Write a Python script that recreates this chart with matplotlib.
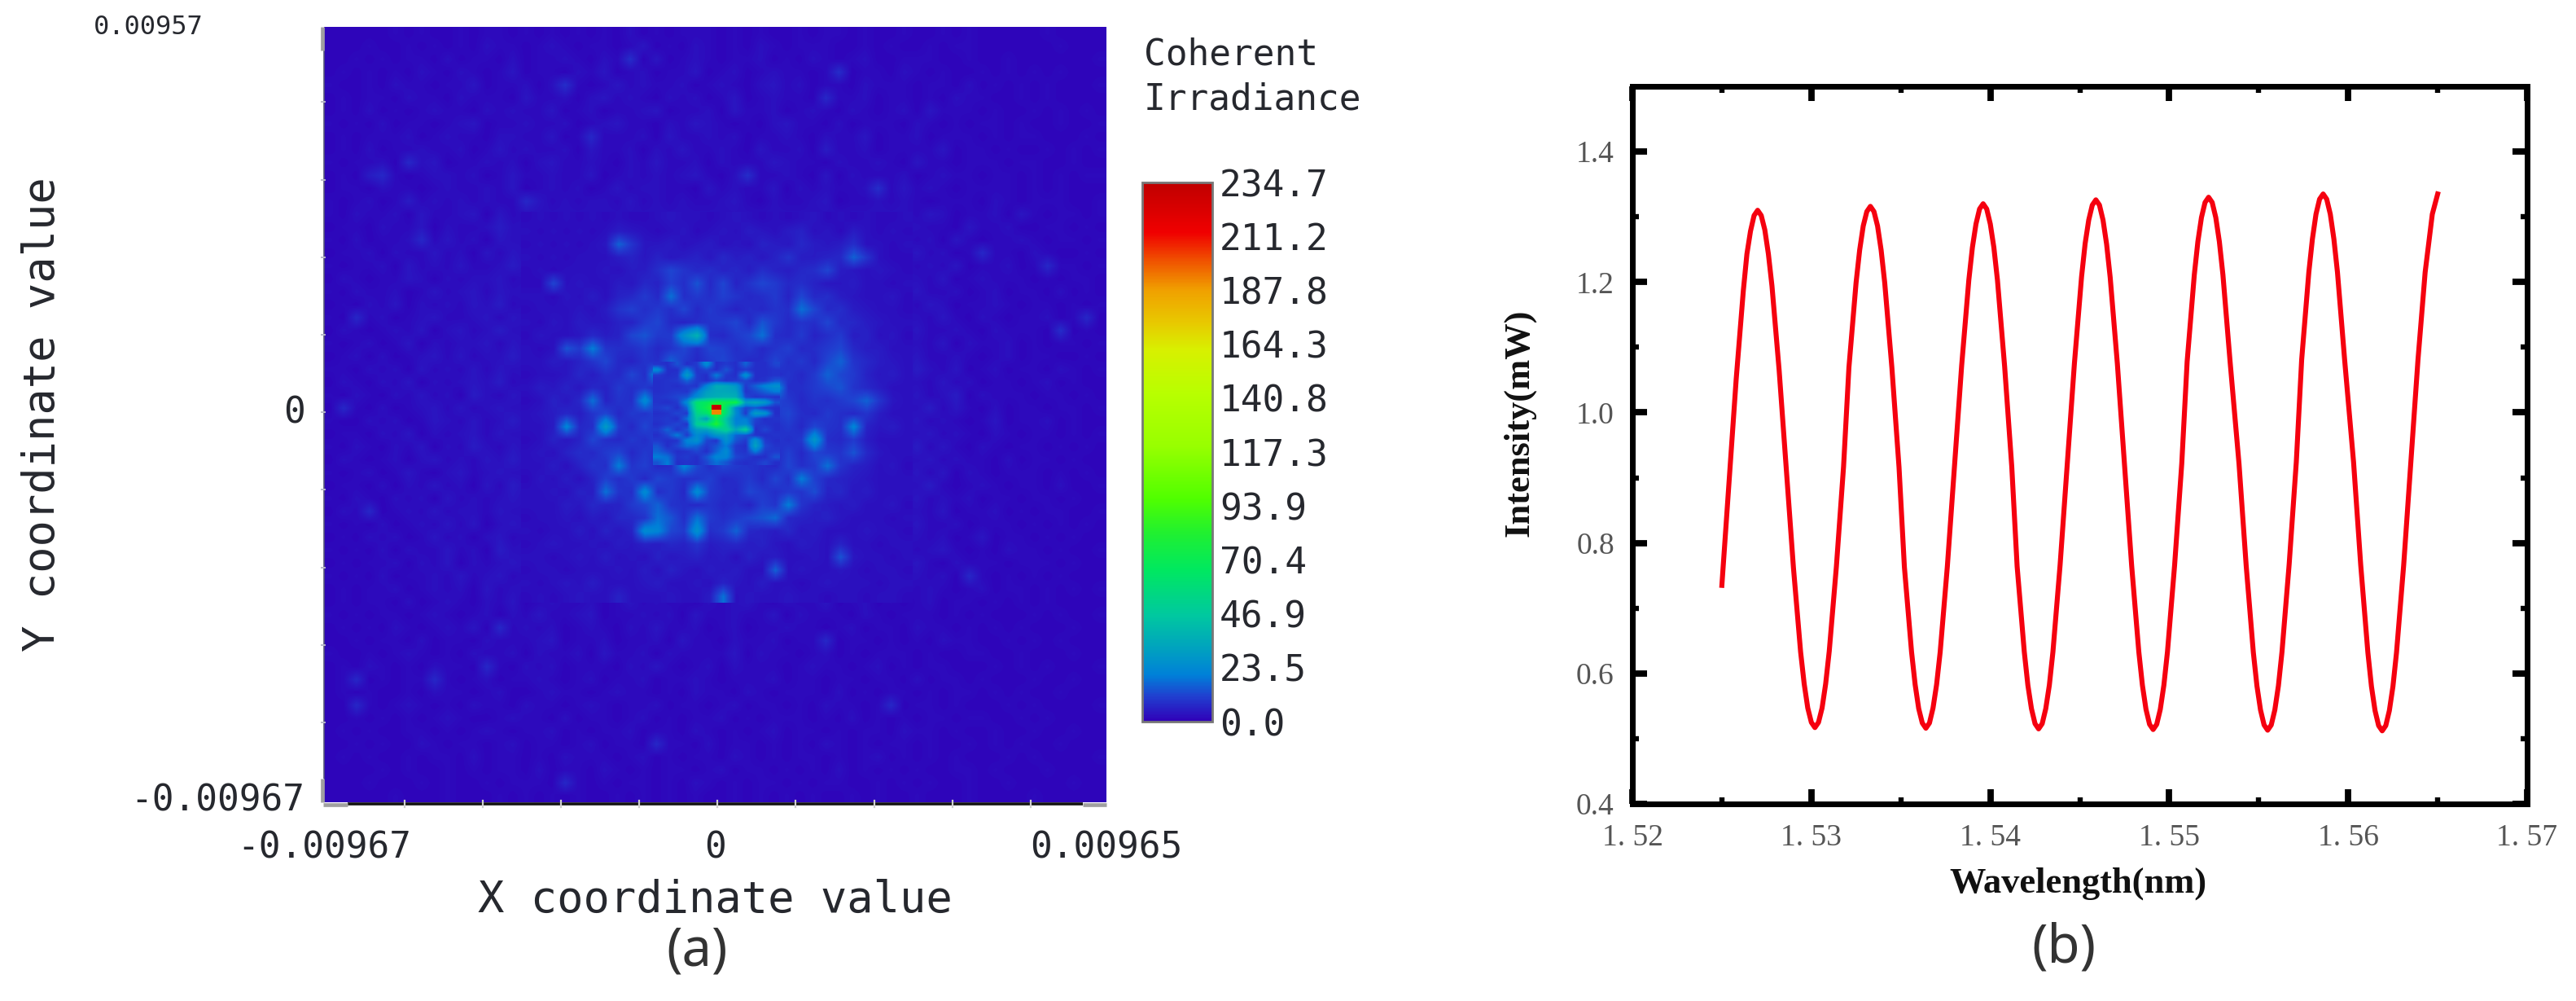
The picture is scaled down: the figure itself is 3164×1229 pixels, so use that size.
import numpy as np
import matplotlib
matplotlib.use("Agg")
import matplotlib.pyplot as plt
from matplotlib.colors import LinearSegmentedColormap, Normalize
from matplotlib.transforms import ScaledTranslation

W, H = 3164, 1229

# ---------- panel (a) values ----------
x_limits = (-0.00967, 0.00965)
y_limits = (-0.00967, 0.00957)
bar_values = [0.0, 23.5, 46.9, 70.4, 93.9, 117.3, 140.8, 164.3, 187.8, 211.2, 234.7]
bar_labels = ["0.0", "23.5", "46.9", "70.4", "93.9", "117.3", "140.8", "164.3", "187.8", "211.2", "234.7"]

# outskirts of the field, one digit per cell (estimated irradiance)
outer_top = [
"1111121211 2122121212 1213121222 1212112122 1211211212 1111121111",
"1112112121 2132212321 2212412132 1213212221 1212112122 1111112111",
"1121212213 1221312232 1328141232 1223121321 2311222112 1121111112",
"1212121321 3212412213 2412312241 2312322128 1221321211 2121212111",
"2112132212 2412231382 1242322312 3213423122 1322212213 1212121112",
"1212213221 3222142231 3423213231 2412322172 2312212132 2112121111",
"1213121232 2132322412 3122341223 1422312321 3212314222 1211212121",
"2121312212 3412232231 2342213243 2121342213 1222132121 2212112112",
"1212223123 2213322412 7222314223 2312232132 2412231222 1212211121",
"1213122322 3124232231 4223132422 3214223152 2312222412 2121121212",
"2122317341 2232313422 3213242231 3222432213 2232142212 2212211211",
"1215721233 2312422322 4123232342 1382232141 3222312322 1221212122",
"1221322123 2232412323 1242332214 2322413232 2382423212 2221212111",
"2123125232 3232274232 3324232322 3421322341 2232321222 1321222112",
]
outer_left = [
"21322 31422 34142", "12213 22413 22353", "21312 23724 23143", "12231 32242 31424",
"21223 14232 42235", "13212 24313 23342", "21322 31242 34243", "12132 41323 24352",
"21723 12342 23424", "13212 32413 42353", "21231 24132 33424", "12313 12342 42335",
"22132 31423 24243", "13213 24132 34352", "21321 32423 15324", "17213 12342 42343",
"21132 31243 24235", "12213 24132 34243", "21321 32413 25324", "13212 31342 32435",
"21231 24213 42343", "12213 13242 31425", "21321 32314 23234", "13271 23242 33243",
"21213 12324 24134", "12132 31242 31342", "21213 13224 23153", "12122 31324 13234",
"21213 12232 42342", "12122 31232 31423",
]
outer_right = [
"24312 23142 12212", "32214 22311 22121", "23142 12232 12212", "42312 72213 21121",
"23241 22312 72212", "32412 32221 21221", "42231 23122 13121", "24312 23212 21212",
"32421 32122 31271", "42232 13222 18121", "32413 22312 12212", "42232 12312 21121",
"53241 23122 13212", "32423 12212 31211", "42351 32221 22121", "35242 13122 12212",
"42321 24122 31211", "34232 13212 21212", "52421 32122 12121", "34232 21312 21211",
"42413 21222 12121", "35212 32122 13112", "42323 12212 21211", "32412 23121 22112",
"42231 22212 12121", "32312 41221 21211", "23421 21322 12112", "42132 22122 21211",
"32317 21212 12111", "23212 31221 21212",
]
outer_bottom = [
"1212213123 2132412322 3124232213 2342132241 2312123122 1212121111",
"2121221232 1231324223 4122323142 2322413222 1321222121 2111212112",
"1212132123 2417232312 3213242231 2312232212 3122132212 1212111211",
"1121221312 2132223412 2312231422 1322312271 2212121322 1121212111",
"2112123212 1322313223 1422313222 2413221231 2122212112 2112111211",
"1213212132 2172132312 2213242123 1322212322 1231212211 1212121112",
"1271212272 1231223212 3122312232 1222312212 2122131221 2111211211",
"1212112132 2123112322 1232212132 2132122213 1212212122 1212112111",
"1172123212 1322132212 3212231221 2312212132 2127122121 1121211112",
"1121212123 2112322131 2212312122 3121222121 3121212212 2112121111",
"1212112212 1232122312 1223122132 1212312212 1221322121 1211211211",
"1121211321 2212312212 3122172213 1221212132 1212212112 1212112111",
"1212112122 1312212132 2212312122 1321212212 1231212121 1121211112",
"1111212112 1212213122 1321212212 3122121213 1212121122 1211121111",
"1112111212 1121222172 1212212132 1212212122 1121212112 1121111211",
"1111121112 1112121212 1121212121 1212121211 2121121112 1111211111",
]

# central region, finer reading
irradiance_middle = [
[2,3,2,3,2,3,2,3,2,2,3,4,3,3,2,3,4,3,2,3,2,3,4,2,3,2,3,2,2,3],
[3,2,3,2,3,2,3,5,4,3,2,3,4,2,3,4,3,5,4,3,5,6,3,4,2,5,3,2,3,2],
[2,3,2,3,2,3,4,16,9,4,4,5,3,4,5,3,4,3,6,5,4,7,5,4,5,8,3,3,2,3],
[3,2,3,2,3,3,3,5,6,4,6,4,5,6,4,7,5,6,4,6,9,5,5,6,7,16,9,3,2,2],
[2,3,2,3,3,3,4,3,5,5,8,12,9,7,8,6,7,5,8,6,5,7,8,12,5,4,3,4,3,2],
[2,2,12,3,4,3,3,5,4,7,6,11,8,14,7,12,6,9,12,10,7,8,6,4,4,5,3,3,2,3],
[3,3,2,4,3,5,3,6,7,10,7,18,8,10,8,11,9,7,8,10,6,12,7,8,5,4,3,3,4,2],
[2,3,3,3,4,3,5,9,11,8,10,8,12,7,10,8,6,8,7,9,8,18,12,7,8,5,4,3,3,2],
[3,2,4,3,5,4,4,6,6,10,12,7,6,8,9,10,12,7,14,10,7,9,8,12,7,7,5,4,3,3],
[2,4,3,3,4,7,5,6,12,14,10,10,26,38,8,7,10,12,18,8,7,10,6,8,10,5,6,3,4,2],
[3,2,3,14,10,20,9,8,8,10,7,9,12,8,12,11,8,10,7,9,11,7,8,10,12,7,5,5,3,3],
[3,3,5,4,6,9,12,7,6,9,8,16,10,7,10,12,9,7,8,12,8,10,7,12,16,9,7,5,4,3],
[2,3,3,4,7,5,8,7,12,8,26,10,22,8,11,16,26,10,12,7,9,7,10,16,12,10,6,4,5,3],
[3,5,4,6,4,7,6,10,8,10,7,9,10,26,34,36,32,14,10,26,8,8,10,12,14,9,7,5,3,3],
[2,3,6,4,7,18,6,9,8,24,8,10,18,50,62,70,60,44,38,12,10,7,9,8,10,12,16,9,4,3],
[3,4,5,7,5,9,12,7,10,9,12,14,16,58,66,90,56,22,12,10,12,8,7,10,8,7,9,5,3,3],
[3,3,5,22,7,8,30,10,7,12,8,10,14,52,44,78,48,18,22,8,10,7,12,9,8,22,6,4,5,3],
[2,3,6,4,6,12,8,7,10,8,12,7,10,22,28,32,48,16,22,10,8,10,28,8,7,10,5,3,3,3],
[3,4,3,6,8,7,10,12,7,10,8,10,12,10,14,20,12,10,8,7,11,7,12,10,9,14,7,4,3,3],
[3,3,5,3,6,9,8,20,9,11,7,8,22,12,8,12,10,9,8,7,12,8,10,18,9,6,5,3,4,2],
[2,4,3,5,3,6,11,8,10,7,12,10,8,9,11,7,8,10,7,12,8,20,11,7,6,5,4,3,3,3],
[3,3,4,3,6,5,18,9,8,24,8,10,7,24,10,8,7,12,10,8,10,9,13,6,7,4,5,3,3,3],
[3,3,3,5,4,7,6,6,10,12,16,9,8,7,9,7,8,6,11,9,20,9,6,5,4,5,3,3,4,2],
[2,3,3,4,3,5,4,7,7,9,18,14,8,18,10,8,10,12,14,17,7,6,5,6,4,3,3,3,2,3],
[3,2,3,3,5,3,6,4,6,24,22,12,10,26,8,10,16,7,6,5,7,4,5,3,3,3,4,3,3,2],
[2,3,4,3,3,4,3,5,4,6,5,7,6,9,5,6,7,5,6,4,3,5,4,3,6,3,3,2,3,3],
[3,3,2,3,4,3,5,3,4,3,6,4,5,6,4,5,3,6,4,5,3,3,4,3,14,4,3,3,2,3],
[2,3,3,2,3,3,3,4,3,5,3,6,4,3,5,4,5,3,3,16,3,4,3,3,4,3,2,3,3,2],
[3,2,3,4,3,5,3,3,3,4,5,3,3,4,3,6,4,3,5,3,3,2,3,4,3,3,3,2,3,3],
[2,3,2,3,4,3,3,6,3,3,3,4,3,3,5,18,3,4,3,3,4,3,3,2,3,3,2,3,3,2],
]

# spot at the centre, finest reading
irradiance_core = [
[9,8,14,8,10,24,8,10,8,16,8,8,12],
[24,8,8,20,9,12,8,14,8,10,8,8,9],
[10,8,9,30,10,8,20,10,8,26,8,8,9],
[8,9,10,16,10,8,12,9,10,12,8,9,14],
[8,9,8,10,9,22,36,34,28,10,16,22,26],
[8,9,10,9,18,30,34,34,32,9,12,16,20],
[9,10,12,14,24,34,36,38,36,12,9,10,9],
[9,8,10,24,62,68,78,72,76,30,34,28,14],
[10,12,8,16,60,72,90,62,22,12,14,9,8],
[8,9,12,10,54,62,90,58,24,10,30,26,8],
[9,10,8,18,46,30,70,44,20,20,12,8,9],
[8,10,12,9,50,58,82,48,22,24,10,9,8],
[10,16,9,14,30,32,44,52,34,50,8,12,8],
[8,12,20,10,24,18,28,30,16,14,9,8,9],
[10,8,9,22,26,12,9,26,14,10,28,10,8],
[14,8,12,18,16,10,14,20,10,8,32,12,9],
[16,12,8,9,12,8,16,24,10,9,20,10,10],
[20,18,9,10,8,14,22,22,12,10,8,8,14],
[14,20,8,9,8,12,18,14,9,8,9,12,8],
]

# the brightest two cells, red over orange
irradiance_peak = [[232], [192]]

middle_extent = (-0.004805, 0.004845, -0.004718, 0.004982)
core_extent = (-0.001548, 0.001588, -0.001296, 0.001264)
peak_extent = (-0.00010, 0.00014, -0.00005, 0.00019)

# ---------- panel (b) values ----------
wavelength = [
1.5250,1.5254,1.5258,1.5262,1.5264,1.5266,1.5268,1.5270,1.5272,1.5274,1.5276,1.5278,
1.5282,1.5286,1.5290,1.5294,1.5296,1.5298,1.5300,1.5302,1.5304,1.5306,1.5308,1.5310,
1.5314,1.5318,1.5321,1.5325,1.5327,1.5329,1.5331,1.5333,1.5335,1.5337,1.5339,1.5341,
1.5345,1.5349,1.5352,1.5356,1.5358,1.5360,1.5362,1.5364,1.5366,1.5368,1.5370,1.5372,
1.5376,1.5380,1.5384,1.5388,1.5390,1.5392,1.5394,1.5396,1.5398,1.5400,1.5402,1.5404,
1.5408,1.5412,1.5415,1.5419,1.5421,1.5423,1.5425,1.5427,1.5429,1.5431,1.5433,1.5435,
1.5439,1.5443,1.5447,1.5451,1.5453,1.5455,1.5457,1.5459,1.5461,1.5463,1.5465,1.5467,
1.5471,1.5475,1.5479,1.5483,1.5485,1.5487,1.5489,1.5491,1.5493,1.5495,1.5497,1.5499,
1.5503,1.5507,1.5510,1.5514,1.5516,1.5518,1.5520,1.5522,1.5524,1.5526,1.5528,1.5530,
1.5534,1.5539,1.5543,1.5547,1.5549,1.5551,1.5553,1.5555,1.5557,1.5559,1.5561,1.5563,
1.5567,1.5571,1.5574,1.5578,1.5580,1.5582,1.5584,1.5586,1.5588,1.5590,1.5592,1.5594,
1.5598,1.5603,1.5607,1.5611,1.5613,1.5615,1.5617,1.5619,1.5621,1.5623,1.5625,1.5627,
1.5631,1.5635,1.5639,1.5643,1.5647,1.5650,
]
intensity = [
0.735,0.894,1.051,1.187,1.243,1.278,1.302,1.310,1.302,1.280,1.243,1.194,
1.065,0.914,0.762,0.633,0.584,0.547,0.525,0.517,0.525,0.547,0.584,0.634,
0.764,0.917,1.069,1.199,1.249,1.286,1.308,1.316,1.308,1.286,1.249,1.199,
1.069,0.916,0.763,0.633,0.583,0.546,0.524,0.516,0.524,0.547,0.583,0.633,
0.764,0.918,1.072,1.203,1.253,1.289,1.312,1.320,1.312,1.289,1.253,1.203,
1.071,0.917,0.764,0.633,0.582,0.546,0.523,0.515,0.523,0.546,0.582,0.633,
0.766,0.920,1.075,1.208,1.259,1.295,1.318,1.326,1.318,1.295,1.258,1.207,
1.075,0.920,0.765,0.633,0.582,0.545,0.522,0.514,0.522,0.545,0.582,0.633,
0.766,0.922,1.078,1.211,1.262,1.299,1.322,1.330,1.322,1.299,1.262,1.211,
1.078,0.921,0.765,0.632,0.581,0.544,0.521,0.513,0.521,0.544,0.581,0.633,
0.767,0.924,1.081,1.215,1.266,1.304,1.327,1.335,1.327,1.304,1.266,1.215,
1.081,0.924,0.766,0.632,0.580,0.543,0.520,0.512,0.520,0.543,0.580,0.632,
0.766,0.923,1.081,1.215,1.304,1.335,
]
x_ticks_b = [1.52, 1.53, 1.54, 1.55, 1.56, 1.57]
x_labels_b = ["1. 52", "1. 53", "1. 54", "1. 55", "1. 56", "1. 57"]
y_ticks_b = [0.4, 0.6, 0.8, 1.0, 1.2, 1.4]
y_labels_b = ["0.4", "0.6", "0.8", "1.0", "1.2", "1.4"]


def digits(row):
    return [int(c) for c in row.replace(" ", "")]


# the middle of this grid lies under the finer reading
irradiance_outer = (
    [digits(r) for r in outer_top]
    + [digits(a) + [3] * 30 + digits(b) for a, b in zip(outer_left, outer_right)]
    + [digits(r) for r in outer_bottom]
)

# ---------- style ----------
cmap_stops = [
(0.0, "#3000b8"), (11, "#2040d0"), (20, "#0080d8"), (31, "#00a0c0"),
(46, "#00c8a0"), (66, "#00e860"), (82, "#20f030"), (97, "#50ff00"),
(120, "#98ff00"), (143, "#b8ff00"), (162, "#d8f000"), (174, "#e8c800"),
(188, "#f0a000"), (201, "#f05000"), (213, "#f00000"), (234.7, "#c00000"),
]
cmap = LinearSegmentedColormap.from_list(
    "zemax", [(v / 234.7, c) for v, c in cmap_stops], N=512)
norm = Normalize(0, 234.7)
MONO = "DejaVu Sans Mono"
SERIF = "Liberation Serif"
TXT = "#26282e"


def axes_px(fig, x0, y0, x1, y1):
    return fig.add_axes([x0 / W, 1 - y1 / H, (x1 - x0) / W, (y1 - y0) / H])


fig = plt.figure(figsize=(W / 100, H / 100), dpi=100, facecolor="white")

# ---------- panel (a) ----------
ax = axes_px(fig, 398, 33, 1359, 985)
full_extent = (x_limits[0], x_limits[1], y_limits[0], y_limits[1])
im = ax.imshow(irradiance_outer, cmap=cmap, norm=norm, extent=full_extent,
               aspect="auto", interpolation="bilinear", zorder=1)
ax.imshow(irradiance_middle, cmap=cmap, norm=norm, extent=middle_extent,
          aspect="auto", interpolation="bilinear", zorder=2)
ax.imshow(irradiance_core, cmap=cmap, norm=norm, extent=core_extent,
          aspect="auto", interpolation="bilinear", zorder=3)
ax.imshow(irradiance_peak, cmap=cmap, norm=norm, extent=peak_extent,
          aspect="auto", interpolation="nearest", zorder=4)
ax.set_xlim(*x_limits)
ax.set_ylim(*y_limits)
for s in ax.spines.values():
    s.set_visible(False)
ax.set_xticks([x_limits[0], 0, x_limits[1]], ["-0.00967", "0", "0.00965"],
              family=MONO, fontsize=32, color=TXT)
ax.set_yticks([y_limits[0], 0], ["-0.00967", "0"], family=MONO, fontsize=32, color=TXT)
ax.tick_params(axis="x", length=0, pad=25)
ax.tick_params(axis="y", length=0, pad=17)
for lab, up in zip(ax.get_yticklabels(), [7, 4]):
    lab.set_transform(lab.get_transform() + ScaledTranslation(0, up / 100, fig.dpi_scale_trans))
ax.text(-0.01266, y_limits[1], "0.00957", family=MONO, fontsize=23, color=TXT,
        ha="right", va="center", clip_on=False)
fig.text(878 / W, 1 - 1105 / H, "X coordinate value", family=MONO, fontsize=38.7,
         color=TXT, ha="center", va="center")
fig.text(52 / W, 1 - 509 / H, "Y coordinate value", family=MONO, fontsize=38.7,
         color=TXT, ha="center", va="center", rotation=90)

# frame details of the source window
trans = ax.transAxes
ax.plot([0.03, 0.97], [-0.002, -0.002], color="#111111", lw=2.6, transform=trans,
        clip_on=False, zorder=5, solid_capstyle="butt")
ax.plot([0, 0], [0.03, 0.97], color="#555577", lw=1.2, transform=trans,
        clip_on=False, zorder=5, solid_capstyle="butt")
for corner_x, corner_y in [([-0.001, 0.03], [-0.003, -0.003]), ([0.97, 1.0], [-0.003, -0.003]),
                           ([-0.002, -0.002], [0.0, 0.03]), ([-0.002, -0.002], [0.97, 1.0])]:
    ax.plot(corner_x, corner_y, color="#a0a0a0", lw=3.4, transform=trans,
            clip_on=False, zorder=6, solid_capstyle="butt")
for frac in [0.103, 0.203, 0.303, 0.403, 0.503, 0.603, 0.703, 0.803, 0.903]:
    ax.plot([frac, frac], [-0.006, 0.002], color="#d0d0d0", lw=1.6, transform=trans,
            clip_on=False, zorder=6)
    ax.plot([-0.003, 0.001], [frac, frac], color="#b8b8c8", lw=1.4, transform=trans,
            clip_on=False, zorder=6)

# colour bar
cax = axes_px(fig, 1403, 224, 1489, 886)
cb = fig.colorbar(im, cax=cax)
cb.set_ticks(bar_values, labels=bar_labels)
cb.ax.tick_params(length=0, pad=6.5, labelsize=32, labelcolor=TXT)
for lab in cb.ax.get_yticklabels():
    lab.set_family(MONO)
cb.outline.set_edgecolor("#777777")
cb.outline.set_linewidth(2)
fig.text(1405 / W, 1 - 67 / H, "Coherent", family=MONO, fontsize=32, color=TXT,
         ha="left", va="center")
fig.text(1405 / W, 1 - 122 / H, "Irradiance", family=MONO, fontsize=32, color=TXT,
         ha="left", va="center")

# ---------- panel (b) ----------
bx = axes_px(fig, 2005, 106, 3104, 987)
bx.plot(wavelength, intensity, color="#f5000f", lw=4.4, solid_joinstyle="round")
bx.set_xlim(1.52, 1.57)
bx.set_ylim(0.4, 1.5)
for s in bx.spines.values():
    s.set_linewidth(5)
bx.set_xticks(x_ticks_b, x_labels_b, family=SERIF, fontsize=27, color="#555555")
bx.set_yticks(y_ticks_b, y_labels_b, family=SERIF, fontsize=27, color="#555555")
bx.set_xticks(np.arange(1.525, 1.57, 0.01), minor=True)
bx.set_yticks(np.arange(0.5, 1.5, 0.2), minor=True)
bx.tick_params(which="major", direction="in", top=True, right=True, length=13, width=5.6)
bx.tick_params(which="minor", direction="in", top=True, right=True, length=6, width=4.6)
bx.tick_params(axis="x", which="major", pad=18)
bx.tick_params(axis="y", which="major", pad=16)
fig.text(2552 / W, 1 - 1085 / H, "Wavelength(nm)", family=SERIF, fontweight="bold",
         fontsize=32, color="#111111", ha="center", va="center")
fig.text(1866 / W, 1 - 519 / H, "Intensity(mW)", family=SERIF, fontweight="bold",
         fontsize=32, color="#111111", ha="center", va="center", rotation=90)

# ---------- panel captions ----------
fig.text(856 / W, 1 - 1168 / H, "(a)", family="Noto Sans", fontweight="light", fontsize=47,
         color="#333333", ha="center", va="center")
fig.text(2535 / W, 1 - 1164 / H, "(b)", family="Noto Sans", fontweight="light", fontsize=47,
         color="#333333", ha="center", va="center")

fig.savefig("out.png", dpi=100, facecolor="white")
